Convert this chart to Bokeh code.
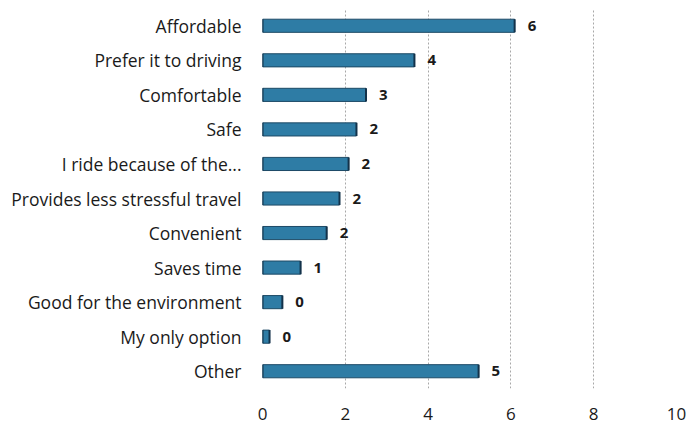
from bokeh.plotting import figure
from bokeh.models import ColumnDataSource, FactorRange, Range1d, FixedTicker
from bokeh.core.properties import value
from bokeh.embed import file_html
from bokeh.resources import INLINE

categories = ["Affordable", "Prefer it to driving", "Comfortable", "Safe",
              "I ride because of the...", "Provides less stressful travel",
              "Convenient", "Saves time", "Good for the environment",
              "My only option", "Other"]
values = [6.09, 3.67, 2.5, 2.27, 2.08, 1.86, 1.55, 0.92, 0.48, 0.17, 5.22]
labels = ["6", "4", "3", "2", "2", "2", "2", "1", "0", "0", "5"]
x_ticks = [0, 2, 4, 6, 8, 10]

FONT = "Open Sans"

src = ColumnDataSource(dict(cat=categories, val=values, lab=labels))

p = figure(width=699, height=425, output_backend="svg", toolbar_location=None,
           y_range=FactorRange(factors=list(reversed(categories)), range_padding=0),
           x_range=Range1d(0, 10),
           min_border_left=262, min_border_right=23, min_border_top=8, min_border_bottom=37)

p.hbar(y="cat", right="val", left=0, height=0.38, source=src,
       fill_color="#2e7ca5", line_color="#1d4a66", line_width=1)
p.rect(x="val", y="cat", width=2, height=0.38, width_units="screen", source=src,
       fill_color="#13324a", line_color=None)
p.rect(x=0, y="cat", width=2, height=0.38, width_units="screen", source=src,
       fill_color="#13324a", line_color=None)

p.text(x="val", y="cat", text="lab", source=src, x_offset=13,
       text_font=value(FONT), text_font_style="bold", text_font_size="15px",
       text_baseline="middle", text_align="left", text_color="#1a1a1a")

p.outline_line_color = None
p.ygrid.grid_line_color = None
p.xgrid.grid_line_color = "#a8a8a8"
p.xgrid.grid_line_dash = "2 2"
p.xgrid.grid_line_width = 1
p.xaxis.ticker = FixedTicker(ticks=x_ticks)

for ax in (p.xaxis[0], p.yaxis[0]):
    ax.axis_line_color = None
    ax.major_tick_line_color = None
    ax.minor_tick_line_color = None
    ax.major_label_text_font = FONT
    ax.major_label_text_color = "#1a1a1a"

p.yaxis.major_label_text_font_size = "17.5px"
p.xaxis.major_label_text_font_size = "17px"
p.xaxis.major_label_standoff = 13
p.yaxis.major_label_standoff = 15

open("out.html", "w").write(file_html(p, INLINE))
